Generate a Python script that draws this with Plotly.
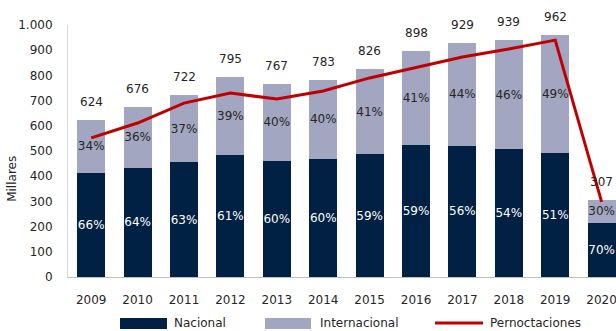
import plotly.graph_objects as go

years = ["2009","2010","2011","2012","2013","2014","2015","2016","2017","2018","2019","2020"]
nacional = [412, 433, 455, 485, 460, 470, 487, 525, 520, 507, 491, 215]
internacional = [212, 243, 267, 310, 307, 313, 339, 373, 409, 432, 471, 92]
totales = [624, 676, 722, 795, 767, 783, 826, 898, 929, 939, 962, 307]
pct_nac = ["66%","64%","63%","61%","60%","60%","59%","59%","56%","54%","51%","70%"]
pct_int = ["34%","36%","37%","39%","40%","40%","41%","41%","44%","46%","49%","30%"]
pernoctaciones = [552, 611, 690, 730, 706, 738, 790, 833, 873, 905, 940, 298]

NAVY = "#012144"
LAV = "#A2A6C0"
RED = "#C00000"
FONT = "DejaVu Sans"
TXT = "#262626"

fig = go.Figure()
fig.add_bar(x=years, y=nacional, marker_color=NAVY, marker_line_width=0,
            text=pct_nac, textposition="inside", insidetextanchor="middle",
            constraintext="none", textangle=0,
            textfont=dict(color="white", size=12, family=FONT), name="Nacional")
fig.add_bar(x=years, y=internacional, marker_color=LAV, marker_line_width=0,
            text=pct_int, textposition="inside", insidetextanchor="middle",
            constraintext="none", textangle=0,
            textfont=dict(color=TXT, size=12, family=FONT), name="Internacional")
fig.add_scatter(x=years, y=pernoctaciones, mode="lines",
                line=dict(color=RED, width=3), name="Pernoctaciones")

for i, t in enumerate(totales):
    fig.add_annotation(x=i, y=t, xref="x", yref="y", text=str(t), showarrow=False,
                       yanchor="middle", yshift=18,
                       font=dict(size=12, family=FONT, color=TXT))

# y title
fig.add_annotation(xref="paper", yref="paper", x=-0.102, y=0.39, text="Millares",
                   textangle=-90, showarrow=False, xanchor="center", yanchor="middle",
                   font=dict(size=12, family=FONT, color=TXT))

# custom legend
def px_x(p):
    return (p - 68) / 548
def px_y(p):
    return (277 - p) / 252

legend_items = [
    ("rect", NAVY, 120, 167, 172, "Nacional"),
    ("rect", LAV, 265, 311, 318, "Internacional"),
    ("line", RED, 435, 483, 488, "Pernoctaciones"),
]
for kind, col, x0, x1, xt, label in legend_items:
    if kind == "rect":
        fig.add_shape(type="rect", xref="paper", yref="paper",
                      x0=px_x(x0), x1=px_x(x1), y0=px_y(318), y1=px_y(329),
                      fillcolor=col, line_width=0)
    else:
        fig.add_shape(type="line", xref="paper", yref="paper",
                      x0=px_x(x0), x1=px_x(x1), y0=px_y(323), y1=px_y(323),
                      line=dict(color=col, width=3))
    fig.add_annotation(xref="paper", yref="paper", x=px_x(xt), y=px_y(323),
                       text=label, showarrow=False, xanchor="left", yanchor="middle",
                       font=dict(size=12, family=FONT, color=TXT))

fig.update_layout(
    barmode="stack", bargap=0.4, showlegend=False,
    width=616, height=331, autosize=False,
    margin=dict(l=68, r=0, t=25, b=54),
    paper_bgcolor="white", plot_bgcolor="white",
    separators=",.",
    font=dict(family=FONT, size=12, color=TXT),
)
fig.update_xaxes(type="category", range=[-0.5, 11.31], showgrid=False,
                 showline=True, linecolor="#BFBFBF", linewidth=1,
                 ticks="", ticklabelstandoff=12,
                 tickfont=dict(size=12, family=FONT, color=TXT))
fig.update_yaxes(range=[0, 1000], dtick=100, tickformat=",d", showgrid=False,
                 showline=True, linecolor="#D9D9D9", linewidth=1, zeroline=False,
                 ticks="", ticklabelstandoff=12,
                 tickfont=dict(size=12, family=FONT, color=TXT))

fig.write_html("out.html")
